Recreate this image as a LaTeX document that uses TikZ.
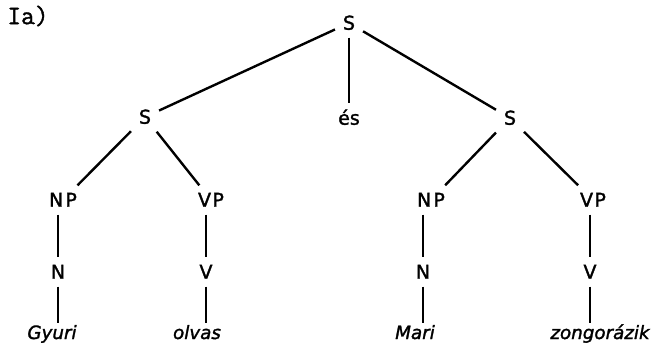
\documentclass[tikz,border=0pt]{standalone}
\usepackage{fontspec}
\setmainfont{DejaVu Sans}[FakeBold=1.6]
\setmonofont{Latin Modern Mono}[FakeBold=1.4]
\usepackage{tikz}
\usetikzlibrary{positioning}
\tikzset{
  treecat/.style={inner xsep=5.5pt,inner ysep=5.5pt,text height=9.5pt,text depth=0pt,font=\fontsize{13.5}{15}\selectfont},
  treeword/.style={inner sep=2pt,text height=9.5pt,text depth=3pt,anchor=base,font=\fontsize{13}{15}\selectfont\itshape},
  treeedge/.style={line width=1.7pt},
  treetag/.style={inner sep=0pt,font=\ttfamily\fontsize{19}{21}\selectfont},
}

\begin{document}
\begin{tikzpicture}[x=0.025cm,y=-0.025cm]
\useasboundingbox (0,0) rectangle (656,351);
\node[treetag] (tag) at (28,16) {Ia)};
\node[treecat] (top) at (349,23) {S};
\node[treecat] (Sa) at (145,117) {S};
\node[treecat] (es) at (349,118) {és};
\node[treecat] (Sb) at (510,118) {S};
\node[treecat] (NPa) at (63,200) {N\kern1.5pt P};
\node[treecat] (VPa) at (211,200) {V\kern1pt P};
\node[treecat] (NPb) at (431,200) {N\kern1.5pt P};
\node[treecat] (VPb) at (593,200) {V\kern1pt P};
\node[treecat] (Na) at (58,272) {N};
\node[treecat] (Va) at (206,272) {V};
\node[treecat] (Nb) at (423,272) {N};
\node[treecat] (Vb) at (590,272) {V};
\node[treeword] (Gyuri) at (52,339) {Gyuri};
\node[treeword] (olvas) at (197,339) {olvas};
\node[treeword] (Mari) at (415,339) {Mari};
\node[treeword] (zong) at (600,339) {zongorázik};
\draw[treeedge] (top)--(Sa);
\draw[treeedge] (top)--(es);
\draw[treeedge] (top)--(Sb);
\draw[treeedge] (Sa)--(NPa);
\draw[treeedge] (Sa)--(VPa);
\draw[treeedge] (Sb)--(NPb);
\draw[treeedge] (Sb)--(VPb);
\draw[treeedge] (NPa.south -| Na)--(Na);
\draw[treeedge] (VPa.south -| Va)--(Va);
\draw[treeedge] (NPb.south -| Nb)--(Nb);
\draw[treeedge] (VPb.south -| Vb)--(Vb);
\draw[treeedge] (Na)--(Na |- Gyuri.north);
\draw[treeedge] (Va)--(Va |- olvas.north);
\draw[treeedge] (Nb)--(Nb |- Mari.north);
\draw[treeedge] (Vb)--(Vb |- zong.north);
\end{tikzpicture}
\end{document}
